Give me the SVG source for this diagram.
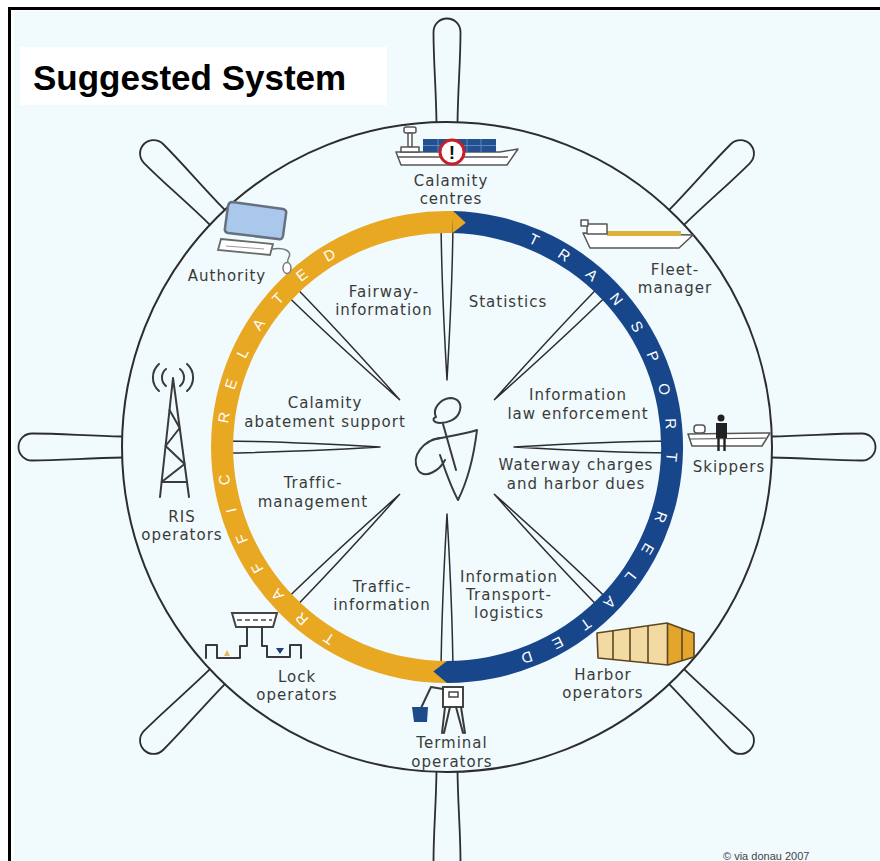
<svg xmlns="http://www.w3.org/2000/svg" xmlns:xlink="http://www.w3.org/1999/xlink" width="880" height="861" viewBox="0 0 880 861">
  <style>
    .spoke { fill: #f1fafd; stroke: #2d2d2d; stroke-width: 1.5; stroke-linejoin: round; }
    .handle { fill: #f1fafd; stroke: #2d2d2d; stroke-width: 1.8; }
    .label { font-family: "DejaVu Sans", "Liberation Sans", sans-serif; font-size: 15px; letter-spacing: 1px; fill: #3a3a3a; text-anchor: middle; }
    .ring-text { font-family: "Liberation Sans", Arial, sans-serif; font-size: 15px; fill: #ffffff; letter-spacing: 23px; text-anchor: middle; }
    .icon { fill: #ffffff; stroke: #555555; stroke-width: 1.5; stroke-linejoin: round; }
    .ink { fill: none; stroke: #3a3a3a; stroke-width: 2; stroke-linecap: round; stroke-linejoin: round; }
  </style>
  <defs>
    <!-- outer handle of the wheel, drawn along +x from the rim -->
    <path id="handle" d="M 324 -10.5 C 360 -11 385 -13.5 415 -13.5 A 13.5 13.5 0 0 1 415 13.5 C 385 13.5 360 11 324 10.5"/>
    <!-- tapering inner spoke, hub to ring -->
    <path id="spoke" d="M 67 0 C 110 -2.5 170 -5.5 226 -6 L 226 6 C 170 5.5 110 2.5 67 0 Z"/>
    <!-- baselines for the ring lettering -->
    <path id="yellow-arc" d="M 371.93 653.26 A 219.5 219.5 0 0 1 371.93 240.74"/>
    <path id="blue-arc" d="M 488.88 231.53 A 219.5 219.5 0 0 1 481.34 663.8"/>
  </defs>

  <!-- page and frame -->
  <rect x="0" y="0" width="880" height="861" fill="#ffffff"/>
  <rect x="14" y="11" width="870" height="860" fill="#f1fafd"/>
  <path d="M 9.5 870 L 9.5 8.5 L 880 8.5" fill="none" stroke="#000000" stroke-width="3"/>

  <!-- title -->
  <g id="title">
    <rect x="20" y="47" width="367" height="58" fill="#ffffff"/>
    <text x="33" y="90" font-family="Liberation Sans, Arial, sans-serif" font-size="35" font-weight="bold" fill="#000000">Suggested System</text>
  </g>

  <!-- ship's wheel -->
  <g id="wheel">
    <g transform="translate(447 447)" class="handle">
      <use xlink:href="#handle" transform="rotate(0)"/>
      <use xlink:href="#handle" transform="rotate(45)"/>
      <use xlink:href="#handle" transform="rotate(90)"/>
      <use xlink:href="#handle" transform="rotate(135)"/>
      <use xlink:href="#handle" transform="rotate(180)"/>
      <use xlink:href="#handle" transform="rotate(225)"/>
      <use xlink:href="#handle" transform="rotate(270)"/>
      <use xlink:href="#handle" transform="rotate(315)"/>
    </g>
    <circle cx="447" cy="447" r="325" fill="none" stroke="#2d2d2d" stroke-width="2"/>
  </g>

  <!-- spokes linking the hub with the ring -->
  <g id="connectors" transform="translate(447 447)" class="spoke">
    <use xlink:href="#spoke" transform="rotate(0)"/>
    <use xlink:href="#spoke" transform="rotate(45)"/>
    <use xlink:href="#spoke" transform="rotate(90)"/>
    <use xlink:href="#spoke" transform="rotate(135)"/>
    <use xlink:href="#spoke" transform="rotate(180)"/>
    <use xlink:href="#spoke" transform="rotate(225)"/>
    <use xlink:href="#spoke" transform="rotate(270)"/>
    <use xlink:href="#spoke" transform="rotate(315)"/>
  </g>

  <!-- ring: traffic related (left) and transport related (right) -->
  <g id="ring">
    <path d="M 447 683 A 236 236 0 1 1 453.18 211.08 L 452.6 233.07 A 214 214 0 1 0 447 661 Z" fill="#e8a822"/>
    <path d="M 453.18 211.08 A 236 236 0 0 1 447 683 L 447 661 A 214 214 0 0 0 452.6 233.07 Z" fill="#17468b"/>
    <path d="M 447 683 L 433.3 671.6 L 447 661 Z" fill="#17468b"/>
    <path d="M 453.18 211.08 L 465.8 222.8 L 452.6 233.07 Z" fill="#e8a822"/>
    <text class="ring-text"><textPath xlink:href="#yellow-arc" startOffset="280">TRAFFIC RELATED</textPath></text>
    <text class="ring-text"><textPath xlink:href="#blue-arc" startOffset="318">TRANSPORT RELATED</textPath></text>
  </g>

  <!-- hub figure -->
  <g id="hub" class="ink" stroke-width="1.8">
    <path d="M 436 417 C 432 409 440 399 450 398 C 458 398 463 404 459 413 C 456 420 447 423 440 423 C 434 423 431 419 436 417"/>
    <path d="M 443 424 L 456 470"/>
    <path d="M 432 440 C 445 437 465 434 477 430 C 474 455 468 480 458 500 C 450 485 445 470 440 455"/>
    <path d="M 440 438 C 425 440 410 455 418 470 C 425 480 440 470 445 460"/>
  </g>

  <!-- sectors inside the ring -->
  <g id="fairway-information">
    <text class="label" x="384" y="297">Fairway-</text>
    <text class="label" x="384" y="315">information</text>
  </g>
  <g id="statistics">
    <text class="label" x="508" y="307">Statistics</text>
  </g>
  <g id="calamity-abatement">
    <text class="label" x="325" y="408">Calamity</text>
    <text class="label" x="325" y="427">abatement support</text>
  </g>
  <g id="law-enforcement">
    <text class="label" x="578" y="400">Information</text>
    <text class="label" x="578" y="419">law enforcement</text>
  </g>
  <g id="waterway-charges">
    <text class="label" x="576" y="470">Waterway charges</text>
    <text class="label" x="576" y="489">and harbor dues</text>
  </g>
  <g id="traffic-management">
    <text class="label" x="313" y="488">Traffic-</text>
    <text class="label" x="313" y="507">management</text>
  </g>
  <g id="traffic-information">
    <text class="label" x="382" y="592">Traffic-</text>
    <text class="label" x="382" y="610">information</text>
  </g>
  <g id="transport-logistics">
    <text class="label" x="509" y="582">Information</text>
    <text class="label" x="509" y="600">Transport-</text>
    <text class="label" x="509" y="618">logistics</text>
  </g>

  <!-- users around the rim -->
  <g id="calamity-centres">
    <path class="icon" d="M 396 152 L 500 152 L 518 149 L 507 165 L 401 165 Z"/>
    <path class="icon" fill="none" d="M 398 157 L 508 157"/>
    <rect x="404" y="127" width="12" height="6" rx="2" class="icon"/>
    <rect x="408" y="133" width="4" height="14" class="icon"/>
    <rect x="401" y="147" width="18" height="5" class="icon"/>
    <rect x="423" y="139" width="73" height="13" fill="#23508f"/>
    <path d="M 438 139 V 152 M 453 139 V 152 M 467 139 V 152 M 481 139 V 152 M 423 145.5 H 496" stroke="#5f86bd" stroke-width="1"/>
    <circle cx="452" cy="152" r="12" fill="#ffffff" stroke="#c61f2b" stroke-width="3"/>
    <text x="452" y="159" font-family="Liberation Sans, Arial, sans-serif" font-size="19" font-weight="bold" fill="#111111" text-anchor="middle">!</text>
    <text class="label" x="451" y="186">Calamity</text>
    <text class="label" x="451" y="204">centres</text>
  </g>

  <g id="authority">
    <path d="M 232 202 L 283 209 Q 287 210 286 214 L 283 236 Q 282 240 278 239 L 228 233 Q 224 232 225 228 L 228 206 Q 229 202 232 202 Z" fill="#a9c8ec" stroke="#66707e" stroke-width="2.5"/>
    <path d="M 221 239 L 273 244 L 270 255 L 218 250 Z" fill="#ffffff" stroke="#6a6a6a" stroke-width="1.8"/>
    <path d="M 226 246 L 264 249" stroke="#9a9a9a" stroke-width="1"/>
    <path d="M 272 249 C 284 247 292 251 289 257 C 287 261 288 263 288 263" fill="none" stroke="#777777" stroke-width="1.5"/>
    <ellipse cx="287" cy="268" rx="4" ry="5.5" fill="#ffffff" stroke="#777777" stroke-width="1.5"/>
    <text class="label" x="227" y="281">Authority</text>
  </g>

  <g id="fleet-manager">
    <path class="icon" d="M 583 233 L 693 235 L 679 248 L 590 248 Z"/>
    <rect x="607" y="231" width="74" height="5" fill="#dcb23a"/>
    <rect x="587" y="224" width="20" height="10" class="icon"/>
    <path class="icon" d="M 581 220 L 588 220 L 588 226 L 581 226 Z"/>
    <text class="label" x="675" y="275">Fleet-</text>
    <text class="label" x="675" y="293">manager</text>
  </g>

  <g id="skippers">
    <path class="icon" d="M 688 434 L 770 433 L 762 446 L 692 446 Z"/>
    <path d="M 690 439 L 766 438" stroke="#555555" stroke-width="1.2"/>
    <rect x="694" y="425" width="11" height="8" rx="3" class="icon"/>
    <circle cx="721" cy="418" r="3.5" fill="#222222"/>
    <path d="M 716 423 L 727 423 L 727 438 L 716 438 Z" fill="#222222"/>
    <path d="M 718.5 437 L 718.5 451 M 724.5 437 L 724.5 451" stroke="#222222" stroke-width="2.4"/>
    <text class="label" x="729" y="472">Skippers</text>
  </g>

  <g id="ris-operators">
    <path class="ink" d="M 173 378 L 160 497 M 173 378 L 189 497"/>
    <path class="ink" d="M 169.5 410 L 179.7 428 L 165.6 446 L 184.6 464 L 161.6 482 L 187 482"/>
    <path class="ink" d="M 166 369 A 11 11 0 0 0 166 386 M 159 364 A 18 18 0 0 0 159 391 M 180 369 A 11 11 0 0 1 180 386 M 187 364 A 18 18 0 0 1 187 391"/>
    <text class="label" x="182" y="522">RIS</text>
    <text class="label" x="182" y="540">operators</text>
  </g>

  <g id="lock-operators">
    <path d="M 232 613 L 277 613 L 273 627 L 236 627 Z" fill="#ffffff" stroke="#444444" stroke-width="2"/>
    <path d="M 237 620 H 272" stroke="#777777" stroke-width="2" stroke-dasharray="5 3"/>
    <path class="ink" d="M 206 658 L 206 645 L 217 645 L 217 658 L 240 658 L 240 646 L 247 646 L 247 627 M 262 627 L 262 646 L 267 646 L 267 657 L 290 657 L 290 645 L 301 645 L 301 658"/>
    <path d="M 224 656 L 227 650 L 230 656 Z" fill="#e6b65e"/>
    <path d="M 276 648 L 284 648 L 280 654 Z" fill="#1d3f7a"/>
    <text class="label" x="297" y="682">Lock</text>
    <text class="label" x="297" y="700">operators</text>
  </g>

  <g id="terminal-operators">
    <rect x="443" y="687" width="20" height="20" fill="#ffffff" stroke="#444444" stroke-width="2"/>
    <rect x="449" y="692" width="9" height="5" fill="none" stroke="#444444" stroke-width="1.5"/>
    <path class="ink" d="M 445 707 L 442 733 M 461 707 L 465 733 M 450 707 L 444 733 M 456 707 L 463 733"/>
    <path class="ink" d="M 443 689 L 431 687 L 421 708"/>
    <path d="M 412 707 L 428 707 L 427 722 L 414 722 Z" fill="#1d4a8a"/>
    <text class="label" x="452" y="748">Terminal</text>
    <text class="label" x="452" y="767">operators</text>
  </g>

  <g id="harbor-operators">
    <path d="M 597 633 L 667 623 L 694 633 L 694 657 L 668 665 L 598 658 Z" fill="#f3d9a2"/>
    <path d="M 667 623 L 694 633 L 694 657 L 668 665 Z" fill="#e3a52b"/>
    <path d="M 597 633 L 667 623 L 694 633 L 694 657 L 668 665 L 598 658 Z" fill="none" stroke="#5c4620" stroke-width="1.6" stroke-linejoin="round"/>
    <path d="M 613 630.7 V 659.6 M 630 628.3 V 661.2 M 648 625.7 V 663 M 667.5 623 V 665 M 682 628.6 V 660.4" stroke="#5c4620" stroke-width="1.6"/>
    <text class="label" x="603" y="680">Harbor</text>
    <text class="label" x="603" y="698">operators</text>
  </g>

  <text x="723" y="860" font-family="Liberation Sans, Arial, sans-serif" font-size="11" fill="#444444">© via donau 2007</text>
</svg>
